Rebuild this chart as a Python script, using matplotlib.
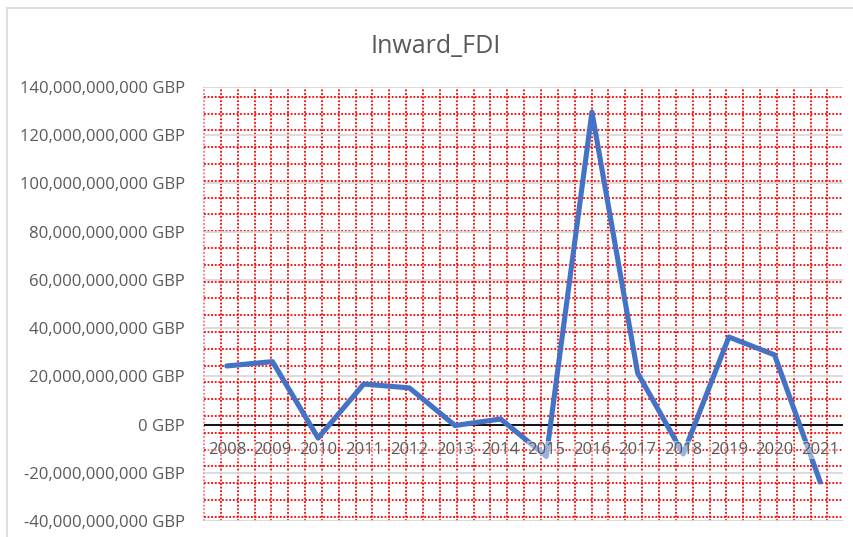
import matplotlib
matplotlib.use("Agg")
import matplotlib.pyplot as plt
from matplotlib.lines import Line2D
from matplotlib.ticker import FuncFormatter, MultipleLocator

years = [str(y) for y in range(2008, 2022)]
# Inward FDI, billions GBP
fdi_bn = [24.3, 26.1, -5.6, 16.8, 15.2, -0.4, 2.3, -13.2, 129.6, 21.4, -12.2, 36.3, 28.9, -23.8]

Y_MIN, Y_MAX, Y_STEP = -40e9, 140e9, 20e9

W, H, DPI = 854, 537, 100
AX_L, AX_R, AX_T, AX_B = 204, 843, 87, 521  # plot area in pixels

plt.rcParams["font.family"] = ["Open Sans", "DejaVu Sans"]

fig = plt.figure(figsize=(W / DPI, H / DPI), dpi=DPI)
fig.patch.set_facecolor("white")
ax = fig.add_axes([AX_L / W, 1 - AX_B / H, (AX_R - AX_L) / W, (AX_B - AX_T) / H])

# chart frame (light grey, runs off the right/bottom of the picture)
fig.add_artist(Line2D([7 / W, 7 / W], [0, 1 - 8 / H], transform=fig.transFigure,
                      color="#d9d9d9", lw=1.2))
fig.add_artist(Line2D([7 / W, 1], [1 - 8 / H, 1 - 8 / H], transform=fig.transFigure,
                      color="#d9d9d9", lw=1.2))

# red dotted pattern fill of the plot area (fixed pixel grid)
pw, ph = AX_R - AX_L, AX_B - AX_T
dot = dict(color="#ff0000", lw=1.3, ls=(0, (1, 1)), transform=ax.transAxes, zorder=0.5,
           clip_on=False)
gx = 0.0
while gx <= pw + 0.5:
    ax.add_line(Line2D([gx / pw, gx / pw], [0, 1], alpha=0.55 if gx == 0 else 1, **dot))
    gx += 16.85
gy = 96.7 - AX_T
while gy <= ph:
    ax.add_line(Line2D([0, 1], [1 - gy / ph, 1 - gy / ph], **dot))
    gy += 16.8

# major gridlines + zero line
xs = range(len(years))
ax.set_xlim(-0.5, len(years) - 0.5)
ax.set_ylim(Y_MIN, Y_MAX)
ax.yaxis.set_major_locator(MultipleLocator(Y_STEP))
ax.grid(axis="y", color="#d9d9d9", lw=1.3)
ax.yaxis.set_zorder(1)
ax.axhline(0, color="black", lw=1.3, zorder=2)

values = [v * 1e9 for v in fdi_bn]
ax.plot(xs, values, color="#4472C4", lw=3.7, solid_joinstyle="round",
        solid_capstyle="round", zorder=3)

for s in ax.spines.values():
    s.set_visible(False)

ax.yaxis.set_major_formatter(FuncFormatter(lambda v, p: f"{v:,.0f} GBP"))
ax.set_xticks(list(xs))
ax.set_xticklabels(years)
ax.spines["bottom"].set_position(("data", 0))
ax.xaxis.set_zorder(4)  # category labels sit above the line, as in Excel
ax.tick_params(axis="y", length=0, pad=13.7, labelsize=12, labelcolor="#595959")
ax.tick_params(axis="x", length=0, pad=12.5, labelsize=12, labelcolor="#595959")
for lab in ax.get_xticklabels():
    lab.set_bbox(dict(facecolor="white", alpha=0.45, edgecolor="none", pad=0.5))

fig.text(435.6 / W, 1 - 53.3 / H, "Inward_FDI", ha="center", va="baseline",
         fontsize=18, color="#595959")

fig.savefig("out.png", dpi=DPI)
